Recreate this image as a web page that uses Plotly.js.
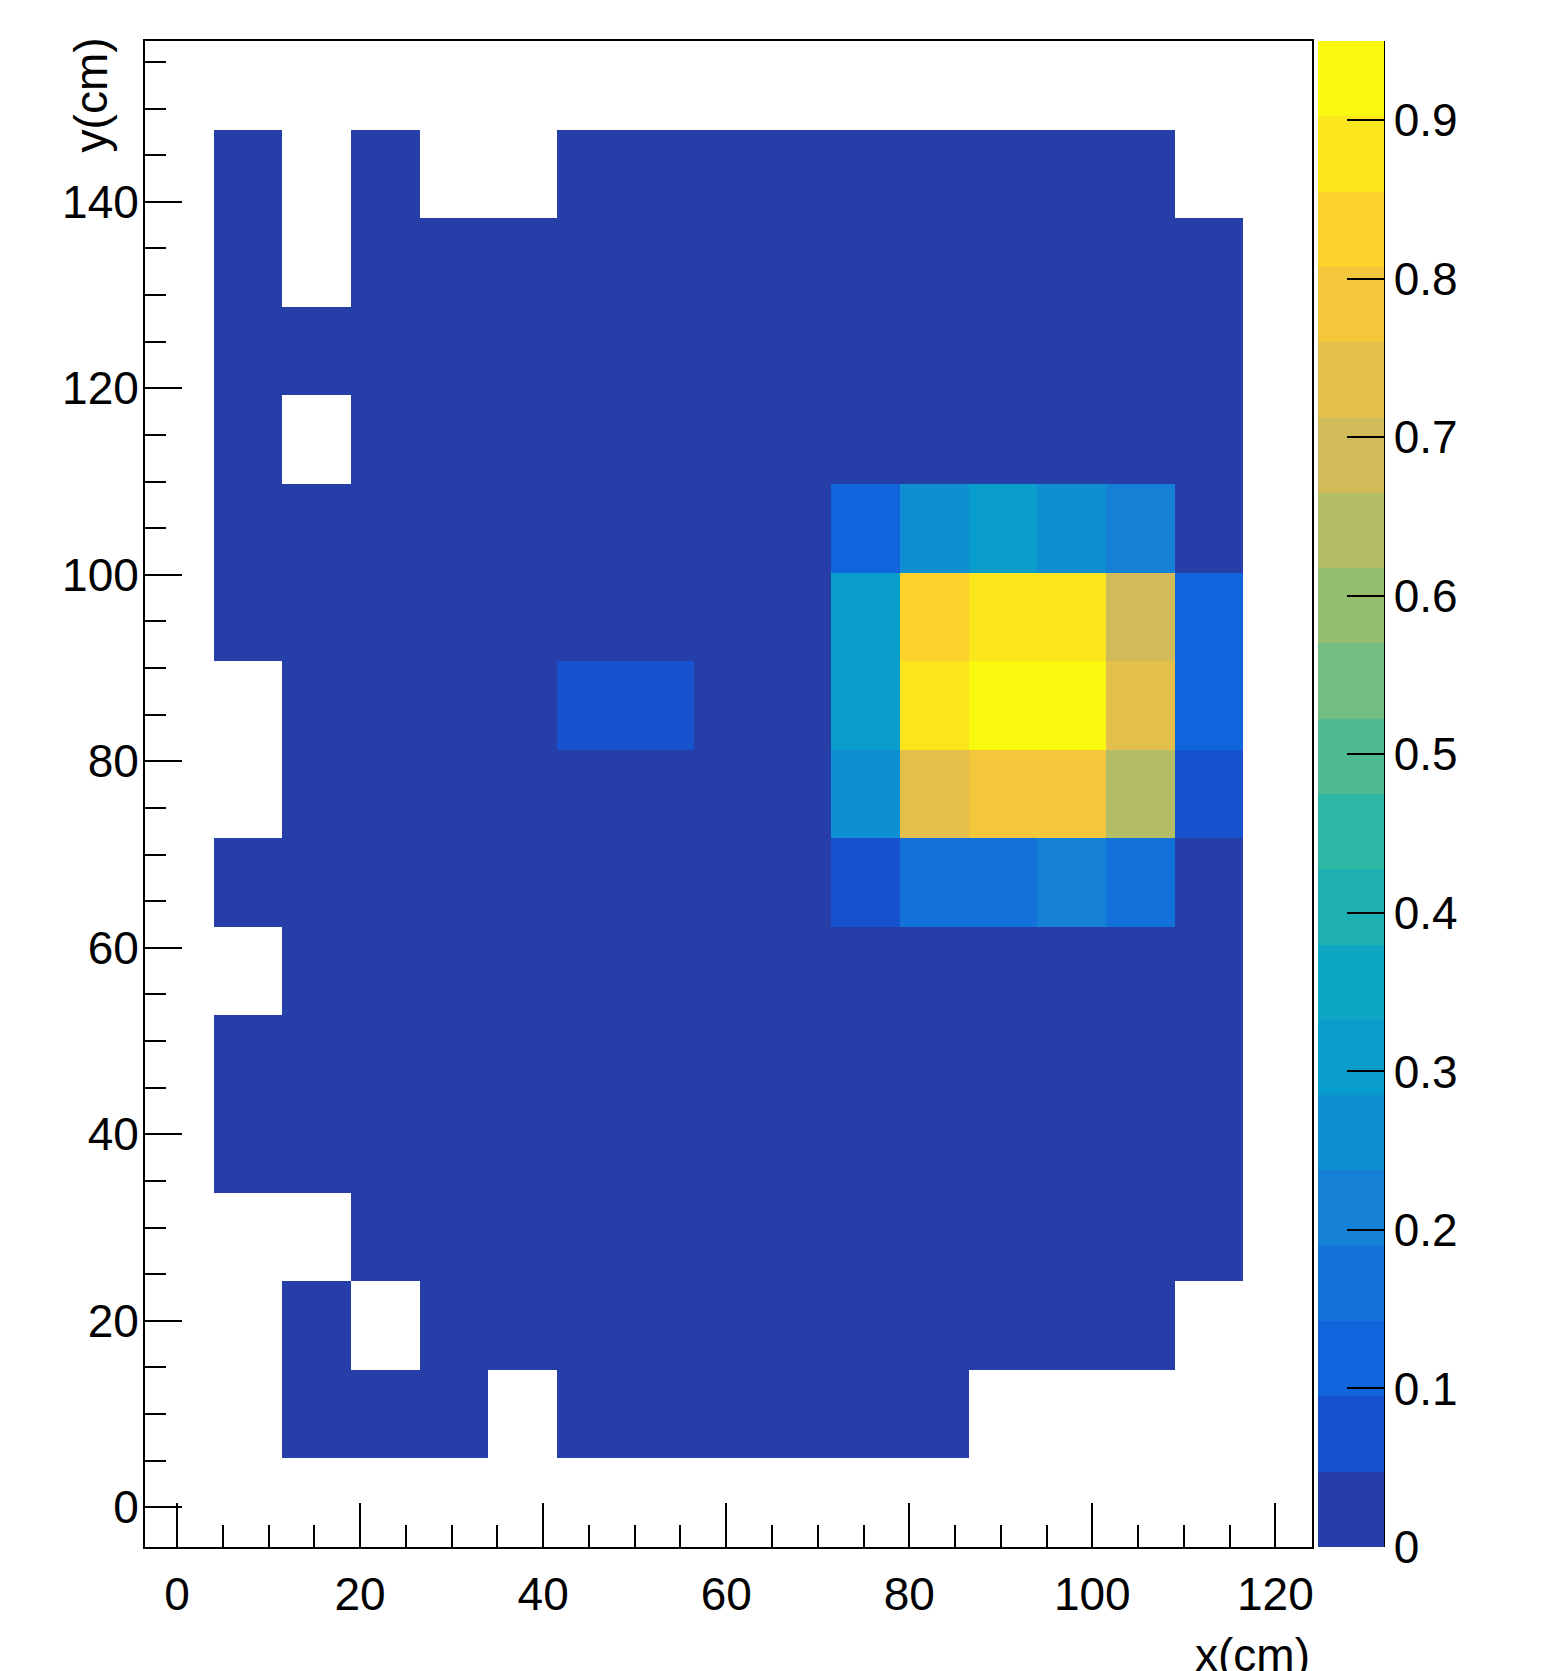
<!DOCTYPE html>
<html>
<head>
<meta charset="utf-8">
<script src="https://cdn.plot.ly/plotly-3.0.1.min.js"></script>
<style>html,body{margin:0;padding:0;background:#fff;}</style>
</head>
<body>
<div id="chart" style="width:1546px;height:1671px;"></div>
<script>
// Bin edges (cm)
const xEdges = [-3.5, 4, 11.5, 19, 26.5, 34, 41.5, 49, 56.5, 64, 71.5, 79, 86.5, 94, 101.5, 109, 116.5, 124];
const yEdges = [-4.25, 5.25, 14.75, 24.25, 33.75, 43.25, 52.75, 62.25, 71.75, 81.25, 90.75, 100.25, 109.75, 119.25, 128.75, 138.25, 147.75, 157.25];

const N = null;
// rows from bottom (y bin 0) to top (y bin 16); columns x bin 0..16
const row00 = [N,N,N,N,N,N,N,N,N,N,N,N,N,N,N,N,N];
const row01 = [N,N,.02,.01,.02,N,.02,.03,.02,.01,.02,.02,N,N,N,N,N];
const row02 = [N,N,.02,N,.02,.03,.02,.02,.03,.02,.02,.03,.02,.02,.01,N,N];
const row03 = [N,N,N,.01,.02,.02,.03,.02,.02,.03,.02,.03,.02,.02,.02,.01,N];
const row04 = [N,.01,.02,.02,.03,.02,.03,.02,.03,.02,.03,.02,.03,.02,.02,.02,N];
const row05 = [N,.02,.02,.03,.02,.03,.02,.03,.02,.03,.02,.03,.02,.03,.02,.01,N];
const row06 = [N,N,.02,.02,.03,.02,.03,.02,.03,.02,.03,.03,.03,.02,.03,.02,N];
const row07 = [N,.01,.02,.02,.02,.03,.02,.03,.02,.03,.07,.17,.17,.21,.17,.03,N];
const row08 = [N,N,.02,.02,.03,.02,.03,.02,.03,.03,.26,.74,.79,.79,.64,.07,N];
const row09 = [N,N,.02,.03,.02,.03,.07,.07,.03,.03,.31,.88,.95,.94,.74,.12,N];
const row10 = [N,.02,.02,.03,.02,.03,.03,.03,.02,.03,.31,.84,.88,.89,.69,.12,N];
const row11 = [N,.02,.02,.02,.03,.02,.03,.02,.03,.02,.12,.26,.31,.27,.21,.03,N];
const row12 = [N,.01,N,.02,.02,.03,.02,.02,.03,.02,.03,.02,.03,.02,.03,.02,N];
const row13 = [N,.02,.02,.02,.03,.02,.02,.03,.02,.03,.02,.03,.02,.03,.02,.01,N];
const row14 = [N,.01,N,.02,.02,.02,.03,.02,.03,.02,.03,.02,.02,.03,.02,.01,N];
const row15 = [N,.01,N,.01,N,N,.02,.02,.02,.02,.02,.02,.02,.02,.01,N,N];
const row16 = [N,N,N,N,N,N,N,N,N,N,N,N,N,N,N,N,N];

const zRows = [row00,row01,row02,row03,row04,row05,row06,row07,row08,row09,row10,row11,row12,row13,row14,row15,row16];

const zMin = 0;
const zMax = 0.95;
const nContours = 20;
const colorTickVals = [0, 0.1, 0.2, 0.3, 0.4, 0.5, 0.6, 0.7, 0.8, 0.9];
const colorTickText = ["0", "0.1", "0.2", "0.3", "0.4", "0.5", "0.6", "0.7", "0.8", "0.9"];

// ROOT kBird palette (255 colours), discretised into 20 contour bands
const birdStops = [0.0, 0.125, 0.25, 0.375, 0.5, 0.625, 0.75, 0.875, 1.0];
const birdR = [0.2082, 0.0592, 0.0780, 0.0232, 0.1802, 0.5301, 0.8186, 0.9956, 0.9764];
const birdG = [0.1664, 0.3599, 0.5041, 0.6419, 0.7178, 0.7492, 0.7328, 0.7862, 0.9832];
const birdB = [0.5293, 0.8684, 0.8385, 0.7914, 0.6425, 0.4662, 0.3499, 0.1968, 0.0539];
function buildPalette(nCol) {
  const pal = [];
  for (let g = 1; g < birdStops.length; g++) {
    const n = Math.floor(nCol * birdStops[g]) - Math.floor(nCol * birdStops[g - 1]);
    for (let c = 0; c < n; c++) {
      const f = c / n;
      const r = birdR[g - 1] + (birdR[g] - birdR[g - 1]) * f;
      const gg = birdG[g - 1] + (birdG[g] - birdG[g - 1]) * f;
      const b = birdB[g - 1] + (birdB[g] - birdB[g - 1]) * f;
      pal.push('rgb(' + Math.round(r * 255) + ',' + Math.round(gg * 255) + ',' + Math.round(b * 255) + ')');
    }
  }
  return pal;
}
const palette = buildPalette(255);
const colorscale = [];
for (let i = 0; i < nContours; i++) {
  const idx = Math.min(palette.length - 1, Math.floor((i + 0.99) * palette.length / nContours));
  colorscale.push([i / nContours, palette[idx]]);
  colorscale.push([(i + 1) / nContours, palette[idx]]);
}

const FONT = 'Liberation Sans, Arial, Helvetica, sans-serif';

const trace = {
  type: 'heatmap',
  x: xEdges,
  y: yEdges,
  z: zRows,
  zmin: zMin,
  zmax: zMax,
  zsmooth: false,
  colorscale: colorscale,
  hoverongaps: false,
  colorbar: {
    thickness: 66, thicknessmode: 'pixels',
    len: 1, lenmode: 'fraction',
    x: 1.00514, xanchor: 'left', xpad: 0,
    y: 0, yanchor: 'bottom', ypad: 0,
    outlinewidth: 0,
    ticks: 'inside', ticklen: 37, tickwidth: 2, tickcolor: 'black',
    tickmode: 'array', tickvals: colorTickVals, ticktext: colorTickText,
    tickfont: {family: FONT, size: 46, color: 'black'}
  }
};

const layout = {
  width: 1546, height: 1671,
  margin: {l: 145, r: 234, t: 41, b: 124, pad: 0},
  paper_bgcolor: 'white', plot_bgcolor: 'white',
  showlegend: false,
  font: {family: FONT, size: 46, color: 'black'},
  xaxis: {
    range: [-3.5, 124], tick0: 0, dtick: 20,
    ticks: 'inside', ticklen: 44, tickwidth: 2, tickcolor: 'black',
    showline: true, linewidth: 2, linecolor: 'black', mirror: true,
    showgrid: false, zeroline: false,
    ticklabelstandoff: 6,
    tickfont: {family: FONT, size: 46, color: 'black'},
    minor: {tick0: 0, dtick: 5, ticks: 'inside', ticklen: 22, tickwidth: 2, tickcolor: 'black', showgrid: false}
  },
  yaxis: {
    range: [-4.25, 157.25], tick0: 0, dtick: 20,
    ticks: 'inside', ticklen: 37, tickwidth: 2, tickcolor: 'black',
    showline: true, linewidth: 2, linecolor: 'black', mirror: true,
    showgrid: false, zeroline: false,
    ticklabelstandoff: -5,
    tickfont: {family: FONT, size: 46, color: 'black'},
    minor: {tick0: 0, dtick: 5, ticks: 'inside', ticklen: 21, tickwidth: 2, tickcolor: 'black', showgrid: false}
  },
  annotations: [
    {text: 'y(cm)', xref: 'paper', yref: 'paper', x: -0.0455, y: 1.004, xanchor: 'center', yanchor: 'top',
     textangle: -90, showarrow: false, font: {family: FONT, size: 46, color: 'black'}},
    {text: 'x(cm)', xref: 'paper', yref: 'paper', x: 1, y: -0.0717, xanchor: 'right', yanchor: 'middle',
     showarrow: false, font: {family: FONT, size: 46, color: 'black'}}
  ],
  shapes: [
    {type: 'line', xref: 'paper', yref: 'paper', x0: 1.0617, x1: 1.0617, y0: 0, y1: 1,
     line: {color: 'black', width: 2}}
  ]
};

Plotly.newPlot('chart', [trace], layout, {displayModeBar: false, staticPlot: true});
</script>
</body>
</html>
